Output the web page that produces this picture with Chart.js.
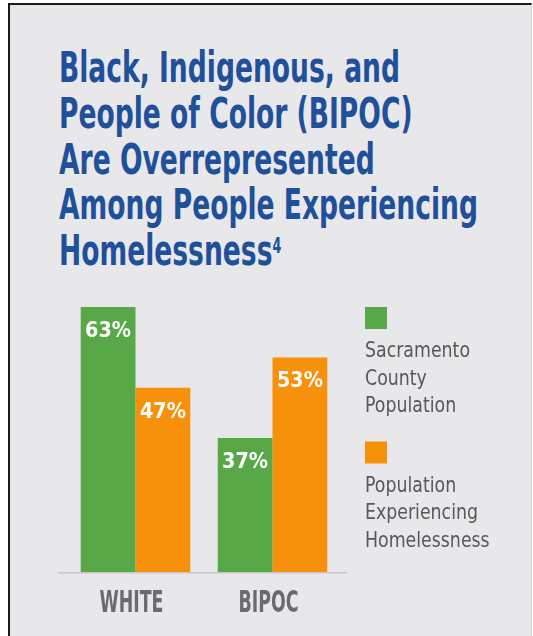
<!DOCTYPE html>
<html>
<head>
<meta charset="utf-8">
<script src="https://cdn.jsdelivr.net/npm/chart.js@4.4.0/dist/chart.umd.min.js"></script>
<style>
  html, body { margin: 0; padding: 0; background: #fff; width: 533px; height: 636px; overflow: hidden; }
  #panel { position: absolute; left: 8px; top: 3px; width: 521px; height: 640px; background: #e8e8ea;
           border-left: 2px solid #1b1b1b; border-top: 2px solid #1b1b1b; border-right: 1px solid #d2d2d4; }
  #title { position: absolute; left: 59px; top: 45px; margin: 0; white-space: nowrap; color: #21509b;
           font: bold 43px/45.8px 'Liberation Sans Narrow', 'DejaVu Sans Condensed', sans-serif; transform-origin: 0 0; }
  #title sup { font-size: 20.5px; line-height: 0; vertical-align: 0; position: relative; top: -12.7px; }
  #chart { position: absolute; left: 0; top: 0; }
</style>
</head>
<body>
<div id="panel"></div>
<h1 id="title"></h1>
<canvas id="chart" width="533" height="636"></canvas>
<script>
/* dados do gráfico */
const TITLE_LINES = ["Black, Indigenous, and", "People of Color (BIPOC)", "Are Overrepresented", "Among People Experiencing", "Homelessness"];
const TITLE_NOTE = "4";
const CATEGORIES = ["WHITE", "BIPOC"];
const COUNTY_POP = [63, 37];
const HOMELESS_POP = [47, 53];
const SERIES_NAMES = ["Sacramento County Population", "Population Experiencing Homelessness"];
const LEGEND_LINES = [["Sacramento", "County", "Population"], ["Population", "Experiencing", "Homelessness"]];
const COLORS = ["#59a847", "#f7900b"];

const FONT_STACK = "'Liberation Sans Narrow', 'DejaVu Sans Condensed', sans-serif";
const measureCtx = document.createElement("canvas").getContext("2d");
// escala horizontal para imitar a fonte condensada do original
function fitScale(font, txt, target) {
  measureCtx.font = font;
  return target / measureCtx.measureText(txt).width;
}
function condText(ctx, txt, x, y, sx, align) {
  ctx.save();
  ctx.translate(x, y);
  ctx.scale(sx, 1);
  ctx.textAlign = align;
  ctx.fillText(txt, 0, 0);
  ctx.restore();
}

/* título */
const titleEl = document.getElementById("title");
titleEl.innerHTML = TITLE_LINES.map((l, i) => i === TITLE_LINES.length - 1 ? `${l}<sup>${TITLE_NOTE}</sup>` : l).join("<br>");
titleEl.style.transform = `scaleX(${fitScale("bold 43px " + FONT_STACK, "Among People Experiencing", 419)})`;

const VAL_FONT = "bold 21px " + FONT_STACK;
const CAT_FONT = "bold 30px " + FONT_STACK;
const LEG_FONT = "21px " + FONT_STACK;
const sVal = fitScale(VAL_FONT, "63%", 46);
const sCat = fitScale(CAT_FONT, "WHITE", 64);
const sLeg = fitScale(LEG_FONT, "Sacramento", 105);

const decor = {
  id: "decor",
  beforeDatasetsDraw(chart) {
    const { ctx, chartArea: a } = chart;
    ctx.save();
    ctx.strokeStyle = "#c6c6c9";
    ctx.lineWidth = 1.5;
    ctx.beginPath();
    ctx.moveTo(a.left - 9, a.bottom + 0.75);
    ctx.lineTo(a.right + 6, a.bottom + 0.75);
    ctx.stroke();
    ctx.restore();
  },
  afterDatasetsDraw(chart) {
    const { ctx, chartArea: a } = chart;
    ctx.save();
    // rótulos de valor dentro das barras
    ctx.font = VAL_FONT;
    ctx.fillStyle = "#fff";
    chart.data.datasets.forEach((ds, di) => {
      chart.getDatasetMeta(di).data.forEach((bar, i) => {
        condText(ctx, ds.data[i] + "%", bar.x, bar.y + 30, sVal, "center");
      });
    });
    // categorias
    ctx.font = CAT_FONT;
    ctx.fillStyle = "#6b6b6e";
    const xs = chart.scales.x;
    CATEGORIES.forEach((c, i) => condText(ctx, c, xs.getPixelForValue(i) - 4, a.bottom + 40, sCat, "center"));
    // legenda
    ctx.font = LEG_FONT;
    chart.data.datasets.forEach((ds, di) => {
      const top = 307 + di * 134.5;
      ctx.fillStyle = ds.backgroundColor;
      ctx.fillRect(365, top, 22, 22);
      ctx.fillStyle = "#58585b";
      LEGEND_LINES[di].forEach((l, k) => condText(ctx, l, 365, top + 50 + k * 27.5, sLeg, "left"));
    });
    ctx.restore();
  }
};

new Chart(document.getElementById("chart"), {
  type: "bar",
  data: {
    labels: CATEGORIES,
    datasets: [
      { label: SERIES_NAMES[0], data: COUNTY_POP, backgroundColor: COLORS[0], borderWidth: 0, categoryPercentage: 0.8, barPercentage: 1.0 },
      { label: SERIES_NAMES[1], data: HOMELESS_POP, backgroundColor: COLORS[1], borderWidth: 0, categoryPercentage: 0.8, barPercentage: 1.0 }
    ]
  },
  options: {
    responsive: false,
    animation: false,
    events: [],
    layout: { padding: { left: 67, right: 192, top: 292, bottom: 64 } },
    plugins: { legend: { display: false }, tooltip: { enabled: false }, title: { display: false } },
    scales: {
      x: { display: false },
      y: { display: false, min: 10.4, max: 66 }
    }
  },
  plugins: [decor]
});
</script>
</body>
</html>
